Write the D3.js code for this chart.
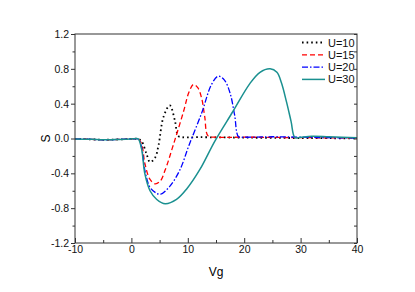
<!DOCTYPE html>
<html>
<head>
<meta charset="utf-8">
<script src="https://cdn.jsdelivr.net/npm/d3@7"></script>
<style>
  body { margin: 0; background: #fff; }
  text { font-family: "Liberation Sans", Arial, sans-serif; }
</style>
</head>
<body>
<div id="chart"></div>
<script>
const width = 415
const height = 292
const margin = { top: 34, right: 58, bottom: 49, left: 75 }

// data
const vg10 = [-10, -7, -5, -3, -1, 0.5, 1.2, 1.8, 2.7, 3.3, 4.2, 4.8, 5.7, 6.8, 7.7, 8.3, 9, 12, 20, 30, 40]
const s10 = [-0.005, -0.01, -0.015, -0.012, -0.008, -0.003, -0.005, -0.03, -0.18, -0.27, -0.22, -0.08, 0.25, 0.38, 0.21, 0.03, 0.015, 0.015, 0.01, 0.005, 0.002]

const vg15 = [-10, -7, -5, -3, -1, 0.5, 1.2, 1.8, 2.4, 3.3, 4.2, 5.1, 6.0, 7.4, 9.2, 10.2, 11.0, 11.8, 12.5, 13.0, 13.6, 15, 20, 30, 40]
const s15 = [-0.005, -0.01, -0.015, -0.012, -0.008, -0.003, -0.005, -0.06, -0.29, -0.47, -0.52, -0.49, -0.36, -0.08, 0.3, 0.53, 0.62, 0.58, 0.45, 0.25, 0.03, 0.015, 0.015, 0.01, 0.005]

const vg20 = [-10, -7, -5, -3, -1, 0.5, 1.2, 1.8, 2.4, 3.3, 4.5, 5.2, 6.8, 8.6, 10.2, 12.5, 14.2, 15.4, 16.5, 17.5, 18.3, 19.0, 20, 25, 30, 40]
const s20 = [-0.005, -0.01, -0.015, -0.012, -0.008, -0.003, -0.005, -0.1, -0.37, -0.56, -0.63, -0.64, -0.55, -0.36, -0.08, 0.3, 0.62, 0.715, 0.67, 0.52, 0.27, 0.02, 0.015, 0.02, 0.015, 0.005]

const vg30 = [-10, -7, -5, -3, -1, 0.5, 1.2, 1.8, 2.4, 3.3, 4.5, 6.0, 8.0, 9.8, 12.2, 14.8, 18.0, 21.0, 22.8, 24.6, 25.8, 26.6, 27.5, 28.3, 29.0, 30, 32, 35, 40]
const s30 = [-0.005, -0.01, -0.015, -0.012, -0.008, -0.003, -0.005, -0.12, -0.41, -0.6, -0.70, -0.75, -0.70, -0.58, -0.35, -0.03, 0.31, 0.63, 0.76, 0.80, 0.76, 0.64, 0.42, 0.2, 0.01, 0.015, 0.025, 0.02, 0.01]

const seriesNames = ["U=10", "U=15", "U=20", "U=30"]
const xTicks = [-10, 0, 10, 20, 30, 40]
const xMinor = [-5, 5, 15, 25, 35]
const yTicks = [-1.2, -0.8, -0.4, 0.0, 0.4, 0.8, 1.2]
const yMinor = [-1.0, -0.6, -0.2, 0.2, 0.6, 1.0]

const series = [
  { name: seriesNames[0], vg: vg10, s: s10, color: "#000000", dash: "1.6,3", w: 1.8 },
  { name: seriesNames[1], vg: vg15, s: s15, color: "#ff0000", dash: "5,3", w: 1.3 },
  { name: seriesNames[2], vg: vg20, s: s20, color: "#0000ff", dash: "6,2,1.5,2", w: 1.3 },
  { name: seriesNames[3], vg: vg30, s: s30, color: "#1a9090", dash: null, w: 1.5 }
]

const svg = d3.select("#chart")
  .append("svg")
  .attr("width", width)
  .attr("height", height)

const x = d3.scaleLinear().domain([-10, 40]).range([margin.left, width - margin.right])
const y = d3.scaleLinear().domain([-1.2, 1.2]).range([height - margin.bottom, margin.top])

svg.append("clipPath").attr("id", "clip")
  .append("rect")
  .attr("x", margin.left).attr("y", margin.top)
  .attr("width", x(40) - x(-10)).attr("height", y(-1.2) - y(1.2))

const line = d3.line()
  .x(d => x(d[0]))
  .y(d => y(d[1]))
  .curve(d3.curveCatmullRom.alpha(0.5))

const g = svg.append("g").attr("clip-path", "url(#clip)")
series.forEach(sr => {
  g.append("path")
    .datum(sr.vg.map((v, i) => [v, sr.s[i]]))
    .attr("fill", "none")
    .attr("stroke", sr.color)
    .attr("stroke-width", sr.w)
    .attr("stroke-dasharray", sr.dash)
    .attr("d", line)
})

// frame
svg.append("rect")
  .attr("x", x(-10)).attr("y", y(1.2))
  .attr("width", x(40) - x(-10)).attr("height", y(-1.2) - y(1.2))
  .attr("fill", "none").attr("stroke", "#333").attr("stroke-width", 1)

function style(sel) {
  sel.select(".domain").remove()
  sel.selectAll("line").attr("stroke", "#333")
  sel.selectAll("text").attr("font-size", 10.5).attr("fill", "#111")
}

svg.append("g")
  .attr("transform", `translate(0,${y(-1.2)})`)
  .call(d3.axisBottom(x).tickValues(xTicks).tickSizeInner(-5).tickSizeOuter(0).tickPadding(3).tickFormat(d => String(d)))
  .call(style)

svg.append("g")
  .attr("transform", `translate(0,${y(-1.2)})`)
  .call(d3.axisBottom(x).tickValues(xMinor).tickSizeInner(-3).tickSizeOuter(0).tickFormat(""))
  .call(style)

svg.append("g")
  .attr("transform", `translate(${x(-10)},0)`)
  .call(d3.axisLeft(y).tickValues(yTicks).tickSize(4).tickPadding(2).tickFormat(d => d.toFixed(1)))
  .call(style)

svg.append("g")
  .attr("transform", `translate(${x(-10)},0)`)
  .call(d3.axisLeft(y).tickValues(yMinor).tickSize(2.5).tickFormat(""))
  .call(style)

svg.append("g")
  .attr("transform", `translate(${x(40)},0)`)
  .call(d3.axisLeft(y).tickValues(yTicks.concat(yMinor)).tickSize(3).tickFormat(""))
  .call(style)

// axis titles
svg.append("text")
  .attr("x", (x(-10) + x(40)) / 2).attr("y", 276)
  .attr("text-anchor", "middle").attr("font-size", 12)
  .text("Vg")

svg.append("text")
  .attr("transform", `translate(50,${y(0)}) rotate(-90)`)
  .attr("text-anchor", "middle").attr("font-size", 12)
  .text("S")

// legend
const legend = svg.append("g")
series.forEach((sr, i) => {
  const ly = 42.5 + i * 12.3
  legend.append("line")
    .attr("x1", 302).attr("x2", 325).attr("y1", ly).attr("y2", ly)
    .attr("stroke", sr.color).attr("stroke-width", sr.w)
    .attr("stroke-dasharray", sr.dash)
  legend.append("text")
    .attr("x", 328).attr("y", ly + 4)
    .attr("font-size", 11).attr("fill", "#111")
    .text(sr.name)
})
</script>
</body>
</html>
